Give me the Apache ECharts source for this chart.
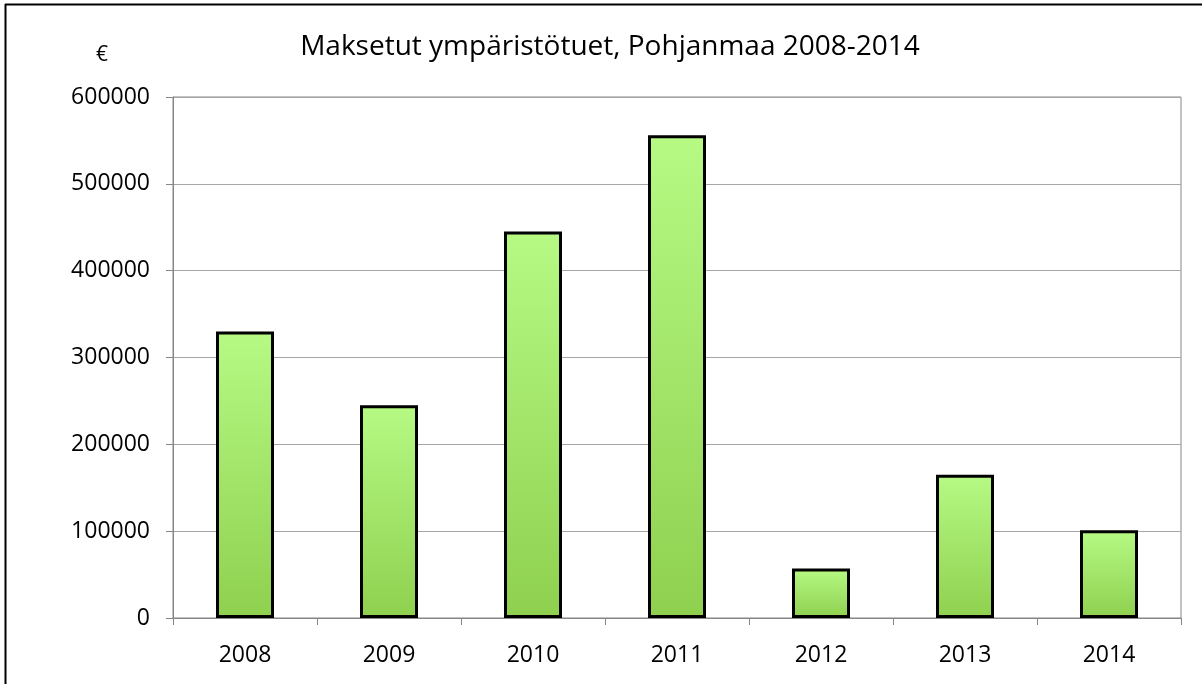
<!DOCTYPE html>
<html>
<head>
<meta charset="utf-8">
<script src="https://cdn.jsdelivr.net/npm/echarts@6/dist/echarts.min.js"></script>
<style>
  html, body { margin: 0; padding: 0; background: #fff; }
  #chart { width: 1203px; height: 684px; }
</style>
</head>
<body>
<div id="chart"></div>
<script>
// vuodet ja maksetut tuet (€)
var years = ['2008', '2009', '2010', '2011', '2012', '2013', '2014'];
var paid = [330000, 245000, 445000, 556000, 57000, 165000, 101000];
var yTicks = [0, 100000, 200000, 300000, 400000, 500000, 600000];

var myChart = echarts.init(document.getElementById('chart'));
var font = 'Open Sans, Noto Sans, sans-serif';

var option = {
    backgroundColor: '#fff',
    animation: false,
    title: {
        text: 'Maksetut ympäristötuet, Pohjanmaa 2008-2014',
        left: 605,
        textAlign: 'center',
        top: 28,
        textStyle: { fontFamily: font, fontSize: 28, fontWeight: 'normal', color: '#000' }
    },
    graphic: [
        { type: 'line', shape: { x1: 5, y1: 4.5, x2: 1202, y2: 4.5 }, style: { stroke: '#000', lineWidth: 2 } },
        { type: 'line', shape: { x1: 5.5, y1: 4, x2: 5.5, y2: 684 }, style: { stroke: '#000', lineWidth: 2 } },
        { type: 'text', left: 96, top: 45, style: { text: '€', fontFamily: font, fontSize: 21, fill: '#000' } }
    ],
    grid: {
        left: 173, right: 22, top: 97, bottom: 66,
        show: true, borderColor: '#868686', borderWidth: 1
    },
    xAxis: {
        type: 'category',
        data: years,
        axisLine: { lineStyle: { color: '#868686' } },
        axisTick: { show: true, length: 7, lineStyle: { color: '#868686' } },
        axisLabel: { fontFamily: font, fontSize: 23, color: '#000', margin: 26 }
    },
    yAxis: {
        type: 'value',
        min: yTicks[0],
        max: yTicks[yTicks.length - 1],
        interval: 100000,
        axisLine: { show: true, lineStyle: { color: '#868686' } },
        axisTick: { show: true, length: 7, lineStyle: { color: '#868686' } },
        splitLine: { lineStyle: { color: '#a6a6a6', width: 1 } },
        axisLabel: {
            fontFamily: font, fontSize: 23, color: '#000', margin: 23,
            formatter: function (v) { return String(v); }
        }
    },
    series: [{
        type: 'bar',
        data: paid,
        barWidth: 58,
        itemStyle: {
            borderColor: '#000',
            borderWidth: 3,
            color: new echarts.graphic.LinearGradient(0, 0, 0, 1, [
                { offset: 0, color: '#b6fa84' },
                { offset: 1, color: '#8fd04f' }
            ])
        }
    }]
};

myChart.setOption(option);
</script>
</body>
</html>
